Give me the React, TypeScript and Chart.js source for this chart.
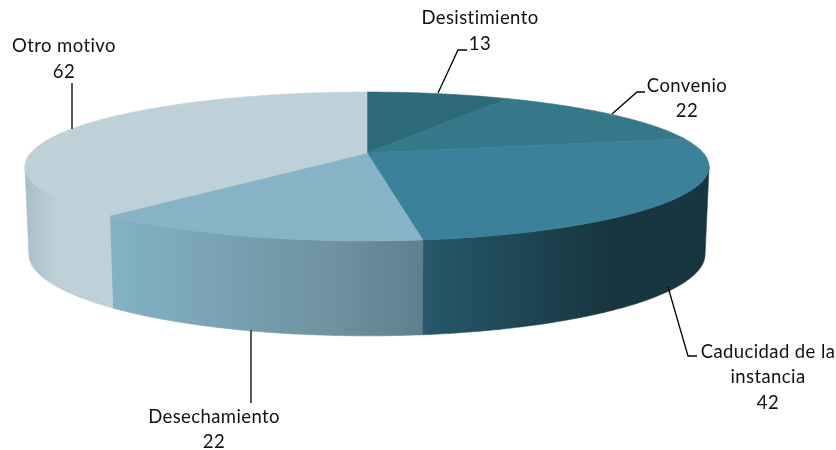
import React, { useEffect, useRef } from "react";
import { Chart, registerables } from "chart.js";

Chart.register(...registerables);

const categories = ["Desistimiento", "Convenio", "Caducidad de la instancia", "Desechamiento", "Otro motivo"];
const values = [13, 22, 42, 22, 62];
const topColors = ["#2C6A7C", "#35788A", "#3B8199", "#86B4C6", "#BFD1D8"];

// wall gradients: [x, colour] stops across the picture
const wallStops: Record<number, [number, string][]> = {
  2: [[422, "#27596A"], [500, "#204A58"], [610, "#18363F"], [710, "#18363F"]],
  3: [[110, "#82B3C5"], [200, "#7BA5B7"], [330, "#6F939F"], [422, "#5F7F8E"]],
  4: [[25, "#A9BCCA"], [55, "#BDCFD7"], [115, "#BFD1D8"]],
};

const labelLayout = [
  { lines: ["Desistimiento", "13"], x: 480, ys: [18, 44], leader: [[438, 93], [458, 50], [467, 50]] },
  { lines: ["Convenio", "22"], x: 687, ys: [86, 111], leader: [[612, 114], [637, 92], [645, 92]] },
  { lines: ["Caducidad de la", "instancia", "42"], x: 768, ys: [352, 377, 403], leader: [[668, 287], [688, 356], [697, 356]] },
  { lines: ["Desechamiento", "22"], x: 214, ys: [417, 442], leader: [[251, 330], [251, 403]] },
  { lines: ["Otro motivo", "62"], x: 64, ys: [46, 72], leader: [[72, 83], [72, 129]] },
];

const K = 0.181;
const TOP_PLANE = { cx: 367, cy: 153, rx: 336.4, ry: 72 };
const BOTTOM_PLANE = { cx: 367, cy: 239.4, rx: 332.5, ry: 79 };
const WALL_START = (100.4 * Math.PI) / 180;
const WALL_END = (259.6 * Math.PI) / 180;

type Plane = typeof TOP_PLANE;

function project(p: Plane, t: number): [number, number] {
  const u = Math.sin(t);
  const v = Math.cos(t);
  const s = 1 / (1 + K * v);
  return [p.cx + p.rx * u * s, p.cy - p.ry * v * s];
}

function rim(p: Plane, a: number, b: number): [number, number][] {
  const n = Math.max(2, Math.ceil(Math.abs(b - a) / 0.01));
  const out: [number, number][] = [];
  for (let i = 0; i <= n; i++) out.push(project(p, a + ((b - a) * i) / n));
  return out;
}

function fillPath(ctx: CanvasRenderingContext2D, pts: [number, number][], fill: string | CanvasGradient) {
  ctx.beginPath();
  pts.forEach(([x, y], i) => (i ? ctx.lineTo(x, y) : ctx.moveTo(x, y)));
  ctx.closePath();
  ctx.fillStyle = fill;
  ctx.strokeStyle = fill;
  ctx.lineWidth = 0.6;
  ctx.fill();
  ctx.stroke();
}

const pie3d = {
  id: "pie3d",
  beforeDatasetDraw(chart: any) {
    const ctx: CanvasRenderingContext2D = chart.ctx;
    const arcs = chart.getDatasetMeta(0).data;
    const colors = chart.data.datasets[0].backgroundColor as string[];
    const angle = (a: number) => a + Math.PI / 2;

    // side wall
    arcs.forEach((arc: any, i: number) => {
      const a = Math.max(angle(arc.startAngle), WALL_START);
      const b = Math.min(angle(arc.endAngle), WALL_END);
      if (b <= a || !wallStops[i]) return;
      const stops = wallStops[i];
      const x0 = stops[0][0];
      const x1 = stops[stops.length - 1][0];
      const g = ctx.createLinearGradient(x0, 0, x1, 0);
      stops.forEach(([x, c]) => g.addColorStop((x - x0) / (x1 - x0), c));
      fillPath(ctx, [...rim(TOP_PLANE, a, b), ...rim(BOTTOM_PLANE, b, a)], g);
    });

    // top faces
    arcs.forEach((arc: any, i: number) => {
      const centre: [number, number] = [TOP_PLANE.cx, TOP_PLANE.cy];
      fillPath(ctx, [centre, ...rim(TOP_PLANE, angle(arc.startAngle), angle(arc.endAngle))], colors[i]);
    });

    // labels and leaders
    ctx.textAlign = "center";
    ctx.textBaseline = "middle";
    ctx.font = "18.5px Lato";
    (ctx as any).letterSpacing = "0.4px";
    labelLayout.forEach((l) => {
      ctx.beginPath();
      l.leader.forEach(([x, y], i) => (i ? ctx.lineTo(x, y) : ctx.moveTo(x, y)));
      ctx.strokeStyle = "#000";
      ctx.lineWidth = 1.3;
      ctx.stroke();
      ctx.fillStyle = "#111";
      l.lines.forEach((t, i) => ctx.fillText(t, l.x, l.ys[i]));
    });
    (ctx as any).letterSpacing = "0px";
    return false;
  },
};

export default function App() {
  const ref = useRef<HTMLCanvasElement>(null);
  useEffect(() => {
    document.body.style.margin = "0";
    const chart = new Chart(ref.current!, {
      type: "pie",
      data: {
        labels: categories,
        datasets: [{ data: values, backgroundColor: topColors, borderWidth: 0 }],
      },
      options: {
        responsive: false,
        animation: false,
        plugins: { legend: { display: false }, tooltip: { enabled: false } },
      },
      plugins: [pie3d],
    } as any);
    return () => chart.destroy();
  }, []);
  return <canvas ref={ref} width={836} height={450} style={{ display: "block", width: 836, height: 450 }} />;
}
